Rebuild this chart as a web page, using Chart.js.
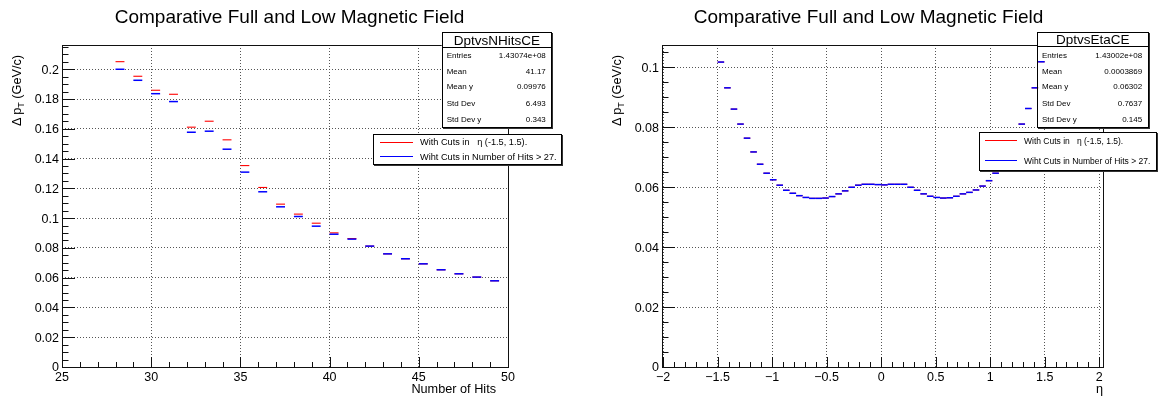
<!DOCTYPE html>
<html>
<head>
<meta charset="utf-8">
<script src="https://cdn.jsdelivr.net/npm/chart.js@4.4.0/dist/chart.umd.min.js"></script>
<style>
body { margin: 0; background: #fff; font-family: "Liberation Sans", Arial, sans-serif; color: #000; }
#wrap { position: relative; width: 1158px; height: 396px; overflow: hidden; background: #fff; }
#wrap canvas { position: absolute; top: 0; }
.abs { position: absolute; white-space: pre; }
.title { top: 6px; width: 579px; text-align: center; font-size: 19px; line-height: 22px; }
.ytitle { width: 200px; text-align: right; font-size: 12.7px; line-height: 16px; transform-origin: 0 0; transform: rotate(-90deg); }
.ytitle sub { font-size: 9px; line-height: 0; vertical-align: -3px; }
.xtitle { width: 200px; text-align: right; font-size: 12.7px; line-height: 16px; top: 380.5px; }
.box { border: 1px solid #000; box-shadow: 1px 1px 0 #333; box-sizing: border-box; }
</style>
</head>
<body>
<div id="wrap"></div>
<script>
// hits panel (left)
const hitsBins = [28.25, 29.25, 30.25, 31.25, 32.25, 33.25, 34.25, 35.25, 36.25, 37.25, 38.25,
                  39.25, 40.25, 41.25, 42.25, 43.25, 44.25, 45.25, 46.25, 47.25, 48.25, 49.25];
const hitsRed = [0.2051, 0.1953, 0.1859, 0.1832, 0.1611, 0.1651, 0.1526, 0.1353, 0.1206, 0.1094, 0.1027,
                 0.0966, 0.0901, 0.0863, 0.0812, 0.0760, 0.0727, 0.0693, 0.0653, 0.0626, 0.0604, 0.0579];
const hitsBlue = [0.2000, 0.1926, 0.1836, 0.1783, 0.1577, 0.1584, 0.1463, 0.1309, 0.1177, 0.1076, 0.1011,
                  0.0946, 0.0892, 0.0859, 0.0812, 0.0760, 0.0727, 0.0693, 0.0653, 0.0626, 0.0604, 0.0579];
const hitsXTicks = [25, 30, 35, 40, 45, 50];
const hitsYTicks = [0, 0.02, 0.04, 0.06, 0.08, 0.1, 0.12, 0.14, 0.16, 0.18, 0.2];

// eta panel (right)
const etaBins = [-1.47, -1.41, -1.35, -1.29, -1.23, -1.17, -1.11, -1.05, -0.99, -0.93,
                 -0.87, -0.81, -0.75, -0.69, -0.63, -0.57, -0.51, -0.45, -0.39, -0.33,
                 -0.27, -0.21, -0.15, -0.09, -0.03, 0.03, 0.09, 0.15, 0.21, 0.27,
                 0.33, 0.39, 0.45, 0.51, 0.57, 0.63, 0.69, 0.75, 0.81, 0.87,
                 0.93, 0.99, 1.05, 1.11, 1.17, 1.23, 1.29, 1.35, 1.41, 1.47];
const etaRed = [0.1018, 0.0932, 0.0861, 0.0811, 0.0764, 0.0718, 0.0677, 0.0647, 0.0625, 0.0607,
                0.0590, 0.0580, 0.0572, 0.0566, 0.0563, 0.0563, 0.0564, 0.0569, 0.0578, 0.0588,
                0.0600, 0.0607, 0.0610, 0.0610, 0.0609, 0.0608, 0.0610, 0.0610, 0.0610, 0.0600,
                0.0590, 0.0578, 0.0570, 0.0566, 0.0564, 0.0565, 0.0570, 0.0578, 0.0583, 0.0591,
                0.0604, 0.0622, 0.0647, 0.0677, 0.0718, 0.0764, 0.0811, 0.0863, 0.0932, 0.1019];
const etaBlue = [0.1018, 0.0932, 0.0861, 0.0811, 0.0764, 0.0718, 0.0677, 0.0647, 0.0625, 0.0607,
                 0.0590, 0.0580, 0.0572, 0.0566, 0.0563, 0.0563, 0.0564, 0.0569, 0.0578, 0.0588,
                 0.0600, 0.0607, 0.0610, 0.0610, 0.0609, 0.0608, 0.0610, 0.0610, 0.0610, 0.0600,
                 0.0590, 0.0578, 0.0570, 0.0566, 0.0564, 0.0565, 0.0570, 0.0578, 0.0583, 0.0591,
                 0.0604, 0.0622, 0.0647, 0.0677, 0.0718, 0.0764, 0.0811, 0.0863, 0.0932, 0.1019];
const etaXTicks = [-2, -1.5, -1, -0.5, 0, 0.5, 1, 1.5, 2];
const etaYTicks = [0, 0.02, 0.04, 0.06, 0.08, 0.1];

const titleText = 'Comparative Full and Low Magnetic Field';
const legendRed = 'With Cuts in   \u03b7 (-1.5, 1.5).';
const legendBlue = 'Wiht Cuts in Number of Hits > 27.';
const hitsStats = [['Entries', '1.43074e+08'], ['Mean', '41.17'], ['Mean y', '0.09976'], ['Std Dev', '6.493'], ['Std Dev y', '0.343']];
const etaStats = [['Entries', '1.43002e+08'], ['Mean', '0.0003869'], ['Mean y', '0.06302'], ['Std Dev', '0.7637'], ['Std Dev y', '0.145']];

const W = 579, H = 396;
const wrap = document.getElementById('wrap');

function el(cls, style, html) {
    const d = document.createElement('div');
    d.className = cls;
    Object.assign(d.style, style);
    if (html !== undefined) d.innerHTML = html;
    wrap.appendChild(d);
    return d;
}

function fmtTick(v) {
    return v < 0 ? '\u2212' + String(-v) : String(v);
}

function stepValues(min, max, step) {
    const out = [];
    for (let k = Math.ceil(min / step - 1e-6); k * step <= max + 1e-9; k++) out.push(+(k * step).toFixed(6));
    return out;
}

// ROOT style frame, inside ticks and stats box background
const rootAxes = {
    id: 'rootAxes',
    beforeDatasetsDraw(chart, args, o) {
        const { ctx, chartArea: a } = chart;
        const sx = chart.scales.x, sy = chart.scales.y;
        ctx.save();
        ctx.strokeStyle = '#111';
        ctx.lineWidth = 1;
        ctx.strokeRect(Math.round(a.left) + 0.5, Math.round(a.top) + 0.5,
                       Math.round(a.right - a.left), Math.round(a.bottom - a.top));
        ctx.beginPath();
        stepValues(sx.min, sx.max, o.xMinor).forEach(v => {
            const major = sx.ticks.some(t => Math.abs(t.value - v) < o.xMinor / 10);
            const px = Math.round(sx.getPixelForValue(v)) + 0.5;
            ctx.moveTo(px, a.bottom);
            ctx.lineTo(px, a.bottom - (major ? o.xMajorLen : o.xMajorLen / 2));
        });
        stepValues(sy.min, sy.max, o.yMinor).forEach(v => {
            const major = sy.ticks.some(t => Math.abs(t.value - v) < o.yMinor / 10);
            const py = Math.round(sy.getPixelForValue(v)) + 0.5;
            ctx.moveTo(a.left, py);
            ctx.lineTo(a.left + (major ? o.yMajorLen : o.yMajorLen / 2), py);
        });
        ctx.stroke();
        const s = o.statsRect;
        ctx.fillStyle = '#fff';
        ctx.fillRect(s.x, s.y, s.w, s.h);
        ctx.restore();
    }
};

function drawPanel(p) {
    const canvas = document.createElement('canvas');
    canvas.width = W;
    canvas.height = H;
    canvas.style.left = p.offset + 'px';
    wrap.appendChild(canvas);
    const a = p.area;
    const halfBin = c => {
        const sx = c.chart.scales.x;
        return sx ? Math.abs(sx.getPixelForValue(p.binWidth) - sx.getPixelForValue(0)) / 2 : 4;
    };
    // blue first so it is drawn on top of red
    const series = [
        { label: legendBlue, values: p.blue, color: '#0000ff', width: 1.5 },
        { label: legendRed, values: p.red, color: '#ff0000', width: 1.1 }
    ];
    new Chart(canvas.getContext('2d'), {
        type: 'scatter',
        data: {
            datasets: series.map(s => ({
                label: s.label,
                data: p.xs.map((x, i) => ({ x: x, y: s.values[i] })),
                borderColor: s.color,
                backgroundColor: s.color,
                pointStyle: 'line',
                pointBorderWidth: s.width,
                pointRadius: halfBin,
                pointHoverRadius: halfBin,
                showLine: false
            }))
        },
        options: {
            responsive: false,
            animation: false,
            events: [],
            layout: { padding: { left: 0, top: a.top, right: W - a.right, bottom: 0 } },
            plugins: {
                legend: { display: false },
                tooltip: { enabled: false },
                rootAxes: { xMinor: p.xMinor, yMinor: 0.005, xMajorLen: 10, yMajorLen: 13, statsRect: p.statsRect }
            },
            scales: {
                x: {
                    type: 'linear', min: p.xMin, max: p.xMax,
                    afterBuildTicks: s => { s.ticks = p.xTicks.map(v => ({ value: v })); },
                    afterFit: s => { s.height = H - a.bottom; },
                    ticks: { autoSkip: false, maxRotation: 0, padding: 3, color: '#000',
                             font: { family: 'Liberation Sans', size: 12.5 }, callback: fmtTick },
                    grid: { drawTicks: false, color: '#555', lineWidth: 1 },
                    border: { display: false, dash: [1, 2] }
                },
                y: {
                    type: 'linear', min: 0, max: p.yMax,
                    afterBuildTicks: s => { s.ticks = p.yTicks.map(v => ({ value: v })); },
                    afterFit: s => { s.width = a.left; },
                    ticks: { autoSkip: false, padding: 3, color: '#000', labelOffset: 1,
                             font: { family: 'Liberation Sans', size: 12.5 }, callback: fmtTick },
                    grid: { drawTicks: false, color: '#555', lineWidth: 1 },
                    border: { display: false, dash: [1, 2] }
                }
            }
        },
        plugins: [rootAxes]
    });

    // titles
    el('abs title', { left: p.offset + 'px' }, titleText);
    el('abs ytitle', { left: (p.offset + p.yTitleX - 8) + 'px', top: (a.top + 10 + 200) + 'px' },
       '\u0394 p<sub>T</sub> (GeV/c)');
    el('abs xtitle', { left: (p.offset + p.xTitleRight - 200) + 'px' }, p.xTitle);

    // stats box
    const s = p.statsRect;
    const sx = p.offset + s.x;
    el('abs box', { left: sx + 'px', top: s.y + 'px', width: s.w + 'px', height: s.h + 'px' });
    el('abs', { left: sx + 'px', top: s.sep + 'px', width: s.w + 'px', height: '0', borderTop: '1px solid #000' });
    el('abs', { left: sx + 'px', top: (s.y + 0.5) + 'px', width: s.w + 'px', textAlign: 'center',
                fontSize: '13.5px', lineHeight: '16px' }, p.statsName);
    p.stats.forEach((r, i) => {
        const cy = s.rows[i];
        el('abs', { left: (sx + 5) + 'px', top: (cy - 5) + 'px', fontSize: '8px', lineHeight: '10px' }, r[0]);
        el('abs', { left: (sx + s.w - 6.5 - 100) + 'px', width: '100px', textAlign: 'right',
                    top: (cy - 5) + 'px', fontSize: '8px', lineHeight: '10px' }, r[1]);
    });

    // legend
    const g = p.legend;
    el('abs box', { left: g.x + 'px', top: g.y + 'px', width: g.w + 'px', height: g.h + 'px', background: '#fff' });
    [[legendRed, '#ff0000', g.rows[0]], [legendBlue, '#0000ff', g.rows[1]]].forEach(e => {
        el('abs', { left: g.lineX0 + 'px', top: (e[2] - 0.75) + 'px', width: (g.lineX1 - g.lineX0) + 'px',
                    height: '0', borderTop: '1.5px solid ' + e[1] });
        el('abs', { left: g.textX + 'px', top: (e[2] - 6) + 'px', fontSize: g.font + 'px', lineHeight: '12px' }, e[0]);
    });
}

drawPanel({
    offset: 0,
    area: { left: 62, right: 508, top: 45, bottom: 367 },
    xs: hitsBins, red: hitsRed, blue: hitsBlue, binWidth: 0.5,
    xMin: 25, xMax: 50, yMax: 0.2163, xTicks: hitsXTicks, yTicks: hitsYTicks, xMinor: 1,
    yTitleX: 17, xTitle: 'Number of Hits', xTitleRight: 496,
    statsName: 'DptvsNHitsCE', stats: hitsStats,
    statsRect: { x: 441.7, y: 32, w: 110.6, h: 95.7, sep: 46.7, rows: [56, 72.3, 87.3, 104, 119.7] },
    legend: { x: 373.3, y: 134.3, w: 189, h: 30.4, rows: [142.3, 157], lineX0: 380, lineX1: 413.3, textX: 420, font: 9.2 }
});

drawPanel({
    offset: 579,
    area: { left: 83, right: 524, top: 45, bottom: 367 },
    xs: etaBins, red: etaRed, blue: etaBlue, binWidth: 0.06,
    xMin: -2.01, xMax: 2.035, yMax: 0.1075, xTicks: etaXTicks, yTicks: etaYTicks, xMinor: 0.1,
    yTitleX: 38, xTitle: '\u03b7', xTitleRight: 524,
    statsName: 'DptvsEtaCE', stats: etaStats,
    statsRect: { x: 458, y: 31.7, w: 111.7, h: 96, sep: 46, rows: [56, 72, 87.3, 104, 120] },
    legend: { x: 979.3, y: 131.7, w: 178, h: 39.3, rows: [140.7, 160.7], lineX0: 985.3, lineX1: 1016.7, textX: 1024, font: 8.5 }
});
</script>
</body>
</html>
